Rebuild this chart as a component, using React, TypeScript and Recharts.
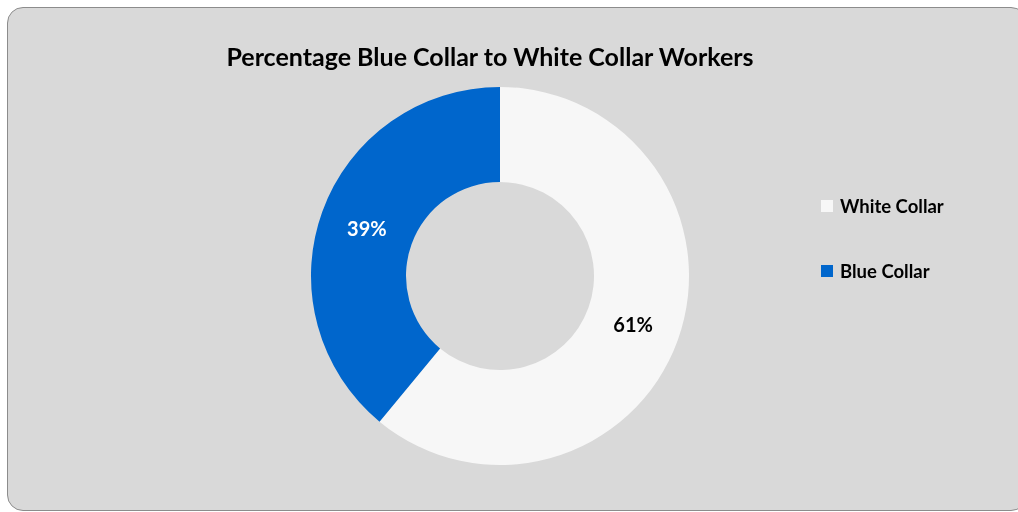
import { PieChart, Pie, Cell, Legend } from 'recharts';

const categories = ['White Collar', 'Blue Collar'];
const shares = [61, 39];
const colors = ['#f7f7f7', '#0066cc'];
const labelColors = ['#000000', '#ffffff'];

const data = categories.map((name, i) => ({ name, value: shares[i] }));

const FONT = 'Lato, "Open Sans", sans-serif';
const RAD = Math.PI / 180;

function renderLabel(props: any) {
  const { cx, cy, midAngle, innerRadius, outerRadius, index, percent } = props;
  const r = (innerRadius + outerRadius) / 2;
  const x = cx + r * Math.cos(-midAngle * RAD);
  const y = cy + r * Math.sin(-midAngle * RAD);
  return (
    <text
      x={x}
      y={y}
      fill={labelColors[index]}
      textAnchor="middle"
      dominantBaseline="central"
      fontFamily={FONT}
      fontWeight={700}
      fontSize={20}
    >
      {`${Math.round(percent * 100)}%`}
    </text>
  );
}

function LegendBox() {
  return (
    <div style={{ fontFamily: FONT, fontWeight: 700, fontSize: 18.5, color: '#000' }}>
      {data.map((d, i) => (
        <div
          key={d.name}
          style={{ display: 'flex', alignItems: 'center', height: 20, marginBottom: i === 0 ? 45 : 0 }}
        >
          <div style={{ width: 12, height: 12, background: colors[i], marginRight: 7 }} />
          <span>{d.name}</span>
        </div>
      ))}
    </div>
  );
}

export default function App() {
  return (
    <div
      style={{
        position: 'fixed',
        left: 7,
        top: 7,
        width: 1020,
        height: 504,
        boxSizing: 'border-box',
        border: '1px solid #8c8c8c',
        borderRadius: 16,
        background: '#d9d9d9',
        overflow: 'hidden',
      }}
    >
      <div
        style={{
          position: 'absolute',
          left: 0,
          width: 964,
          top: 33,
          lineHeight: '30px',
          textAlign: 'center',
          fontFamily: FONT,
          fontWeight: 700,
          fontSize: 25,
          color: '#000',
        }}
      >
        Percentage Blue Collar to White Collar Workers
      </div>
      <PieChart width={1010} height={500} margin={{ top: 0, right: 0, bottom: 0, left: 0 }}>
        <Pie
          data={data}
          dataKey="value"
          nameKey="name"
          cx={492}
          cy={268}
          innerRadius={94}
          outerRadius={189}
          startAngle={90}
          endAngle={-270}
          stroke="none"
          labelLine={false}
          label={renderLabel}
          isAnimationActive={false}
        >
          {data.map((d, i) => (
            <Cell key={d.name} fill={colors[i]} />
          ))}
        </Pie>
        <Legend
          content={<LegendBox />}
          wrapperStyle={{ position: 'absolute', left: 813, top: 188, width: 180 }}
        />
      </PieChart>
    </div>
  );
}
